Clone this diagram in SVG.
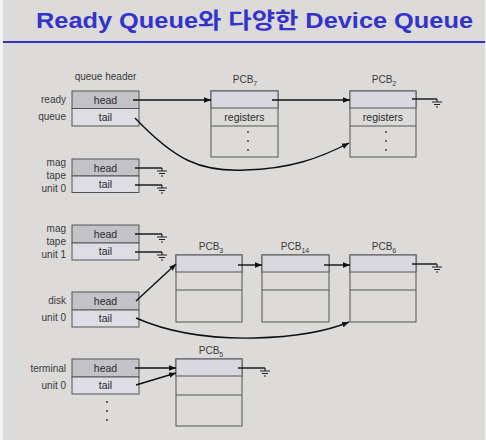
<svg xmlns="http://www.w3.org/2000/svg" width="486" height="440" viewBox="0 0 486 440">
<defs>
<style>
.lbl{font-family:"Liberation Sans",Arial,sans-serif;font-size:10px;fill:#3a3a3a}
.cell{font-family:"Liberation Sans",Arial,sans-serif;font-size:10.5px;fill:#2a2a2a;text-anchor:middle}
.hd{fill:#c3c2c7;stroke:#555;stroke-width:1}
.tl{fill:#dedce4;stroke:#555;stroke-width:1}
.pcb{fill:#dcdbd9;stroke:#555;stroke-width:1}
.top{fill:#d9d7df;stroke:#555;stroke-width:1}
.ln{stroke:#555;stroke-width:1}
.ar{fill:none;stroke:#111;stroke-width:1.4}
.gr{fill:none;stroke:#222;stroke-width:1.2}
.dot{fill:#333}
</style>
<marker id="ah" viewBox="0 0 10 10" refX="10" refY="5" markerWidth="7" markerHeight="7" orient="auto" markerUnits="userSpaceOnUse">
<path d="M0,1 L10,5 L0,9 z" fill="#111"/>
</marker>
<g id="gnd">
<path d="M0,0 v3 M-5,3 h10 M-3,5.5 h6 M-1,8 h2" class="gr"/>
</g>
</defs>
<rect width="486" height="440" fill="#dcdbd9"/>
<rect x="0" y="0" width="3" height="440" fill="#f4f4f4"/>
<rect x="485" y="0" width="1" height="440" fill="#f4f4f4"/>
<text x="254.5" y="28" text-anchor="middle" textLength="437" lengthAdjust="spacingAndGlyphs" font-family="'Liberation Sans','Noto Sans CJK KR',sans-serif" font-weight="bold" font-size="22" fill="#3333cc">Ready Queue와 다양한 Device Queue</text>
<rect x="3" y="41" width="482" height="2" fill="#3333cc"/>

<text class="lbl" x="105.5" y="80" text-anchor="middle">queue header</text>

<g id="ready">
<text class="lbl" x="66" y="103" text-anchor="end">ready</text>
<text class="lbl" x="66" y="120" text-anchor="end">queue</text>
<rect class="hd" x="72" y="91" width="67" height="17.5"/>
<rect class="tl" x="72" y="108.5" width="67" height="17.5"/>
<text class="cell" x="105.5" y="103.5">head</text>
<text class="cell" x="105.5" y="121">tail</text>
</g>

<g id="mag0">
<text class="lbl" x="66" y="166" text-anchor="end">mag</text>
<text class="lbl" x="66" y="179" text-anchor="end">tape</text>
<text class="lbl" x="66" y="192" text-anchor="end">unit 0</text>
<rect class="hd" x="72" y="159" width="67" height="17"/>
<rect class="tl" x="72" y="176" width="67" height="16.5"/>
<text class="cell" x="105.5" y="171.5">head</text>
<text class="cell" x="105.5" y="188">tail</text>
</g>

<g id="mag1">
<text class="lbl" x="66" y="232" text-anchor="end">mag</text>
<text class="lbl" x="66" y="245" text-anchor="end">tape</text>
<text class="lbl" x="66" y="258" text-anchor="end">unit 1</text>
<rect class="hd" x="72" y="225" width="67" height="18"/>
<rect class="tl" x="72" y="243" width="67" height="17"/>
<text class="cell" x="105.5" y="237.5">head</text>
<text class="cell" x="105.5" y="255">tail</text>
</g>

<g id="disk">
<text class="lbl" x="66" y="304" text-anchor="end">disk</text>
<text class="lbl" x="66" y="321" text-anchor="end">unit 0</text>
<rect class="hd" x="72" y="292" width="67" height="18"/>
<rect class="tl" x="72" y="310" width="67" height="17"/>
<text class="cell" x="105.5" y="304.5">head</text>
<text class="cell" x="105.5" y="322">tail</text>
</g>

<g id="terminal">
<text class="lbl" x="66" y="372" text-anchor="end">terminal</text>
<text class="lbl" x="66" y="389" text-anchor="end">unit 0</text>
<rect class="hd" x="72" y="359" width="67" height="18"/>
<rect class="tl" x="72" y="377" width="67" height="17"/>
<text class="cell" x="105.5" y="371.5">head</text>
<text class="cell" x="105.5" y="389">tail</text>
<circle class="dot" cx="107" cy="402" r="1"/>
<circle class="dot" cx="107" cy="411" r="1"/>
<circle class="dot" cx="107" cy="420" r="1"/>
</g>

<g id="pcb7">
<text class="lbl" x="245" y="83" text-anchor="middle">PCB<tspan font-size="7" dy="3">7</tspan></text>
<rect class="pcb" x="211" y="91" width="67" height="66"/>
<rect class="top" x="211" y="91" width="67" height="17"/>
<line class="ln" x1="211" y1="126" x2="278" y2="126"/>
<text class="cell" x="244.5" y="120.5">registers</text>
<circle class="dot" cx="248" cy="132" r="0.9"/>
<circle class="dot" cx="248" cy="141" r="0.9"/>
<circle class="dot" cx="248" cy="150" r="0.9"/>
</g>

<g id="pcb2">
<text class="lbl" x="384" y="83" text-anchor="middle">PCB<tspan font-size="7" dy="3">2</tspan></text>
<rect class="pcb" x="350" y="91" width="66" height="66"/>
<rect class="top" x="350" y="91" width="66" height="17"/>
<line class="ln" x1="350" y1="126" x2="416" y2="126"/>
<text class="cell" x="383" y="120.5">registers</text>
<circle class="dot" cx="386" cy="132" r="0.9"/>
<circle class="dot" cx="386" cy="141" r="0.9"/>
<circle class="dot" cx="386" cy="150" r="0.9"/>
</g>

<g id="pcb3">
<text class="lbl" x="211" y="250" text-anchor="middle">PCB<tspan font-size="7" dy="3">3</tspan></text>
<rect class="pcb" x="176" y="255" width="66" height="67"/>
<rect class="top" x="176" y="255" width="66" height="17"/>
<line class="ln" x1="176" y1="290" x2="242" y2="290"/>
</g>

<g id="pcb14">
<text class="lbl" x="295" y="250" text-anchor="middle">PCB<tspan font-size="7" dy="3">14</tspan></text>
<rect class="pcb" x="262" y="255" width="67" height="67"/>
<rect class="top" x="262" y="255" width="67" height="17"/>
<line class="ln" x1="262" y1="290" x2="329" y2="290"/>
</g>

<g id="pcb6">
<text class="lbl" x="384" y="250" text-anchor="middle">PCB<tspan font-size="7" dy="3">6</tspan></text>
<rect class="pcb" x="350" y="255" width="66" height="67"/>
<rect class="top" x="350" y="255" width="66" height="17"/>
<line class="ln" x1="350" y1="290" x2="416" y2="290"/>
</g>

<g id="pcb5">
<text class="lbl" x="211" y="354" text-anchor="middle">PCB<tspan font-size="7" dy="3">5</tspan></text>
<rect class="pcb" x="176" y="359" width="66" height="67"/>
<rect class="top" x="176" y="359" width="66" height="17"/>
<line class="ln" x1="176" y1="395" x2="242" y2="395"/>
</g>

<g id="connectors">
<line class="ar" x1="133" y1="100" x2="211" y2="100" marker-end="url(#ah)"/>
<line class="ar" x1="272" y1="100" x2="350" y2="100" marker-end="url(#ah)"/>
<path class="ar" d="M135,118 C175,160 200,172 245,170 C290,169 320,158 349,143" marker-end="url(#ah)"/>
<line class="ar" x1="412" y1="99" x2="437" y2="99"/><use href="#gnd" x="437" y="99"/>

<line class="ar" x1="135" y1="168" x2="162" y2="168"/><use href="#gnd" x="162" y="168"/>
<line class="ar" x1="135" y1="185" x2="162" y2="185"/><use href="#gnd" x="162" y="185"/>
<line class="ar" x1="135" y1="234" x2="162" y2="234"/><use href="#gnd" x="162" y="234"/>
<line class="ar" x1="135" y1="252" x2="162" y2="252"/><use href="#gnd" x="162" y="252"/>

<line class="ar" x1="136" y1="301" x2="176" y2="264" marker-end="url(#ah)"/>
<line class="ar" x1="238" y1="265" x2="262" y2="265" marker-end="url(#ah)"/>
<line class="ar" x1="324" y1="265" x2="350" y2="265" marker-end="url(#ah)"/>
<line class="ar" x1="412" y1="264" x2="437" y2="264"/><use href="#gnd" x="437" y="264"/>
<path class="ar" d="M136,318 C170,333 210,339 255,338 C295,337 325,332 349,322" marker-end="url(#ah)"/>

<line class="ar" x1="135" y1="368" x2="176" y2="368" marker-end="url(#ah)"/>
<line class="ar" x1="136" y1="385" x2="176" y2="373" marker-end="url(#ah)"/>
<line class="ar" x1="238" y1="368" x2="265" y2="368"/><use href="#gnd" x="265" y="368"/>
</g>
</svg>
